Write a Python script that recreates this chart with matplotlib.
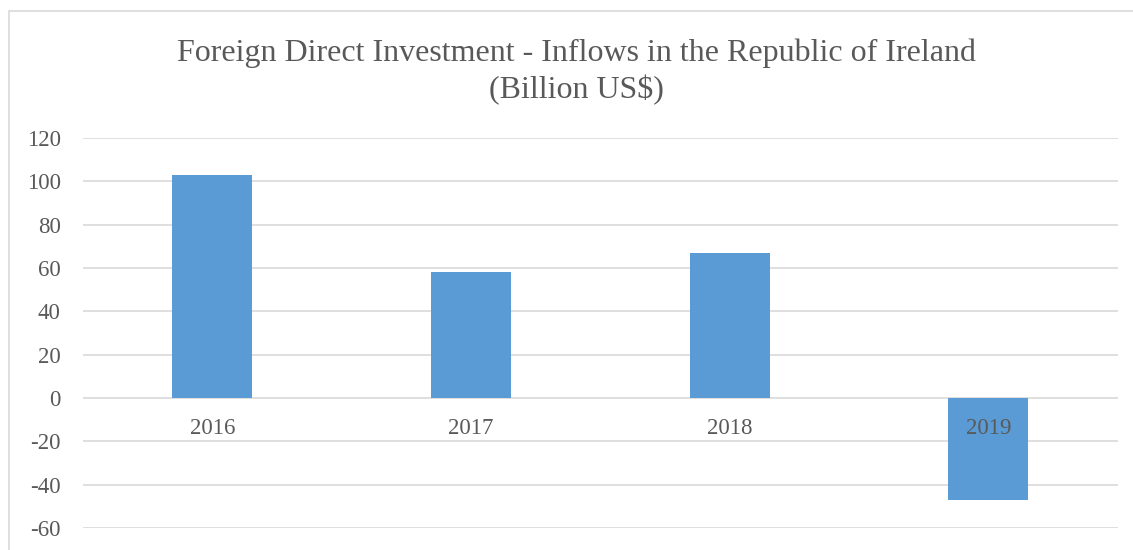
import matplotlib.pyplot as plt
from matplotlib.patches import Rectangle
from matplotlib.transforms import offset_copy

years = ["2016", "2017", "2018", "2019"]
inflows = [102.7, 58.1, 67.0, -46.8]
y_ticks = [-60, -40, -20, 0, 20, 40, 60, 80, 100, 120]

plt.rcParams["font.family"] = ["Liberation Serif", "DejaVu Serif"]
text_color = "#595959"
grid_color = "#d9d9d9"

fig = plt.figure(figsize=(11.33, 5.5), dpi=100)
ax = fig.add_axes([0.0733, 0.0395, 0.9132, 0.7101])

# chart frame
fig.patches.append(Rectangle((9 / 1133, -0.1), 1.2, 1 - 11 / 550 + 0.1,
                             transform=fig.transFigure, fill=False,
                             edgecolor=grid_color, linewidth=1.2))

x = list(range(len(years)))
ax.bar(x, inflows, width=0.31, color="#5B9BD5", zorder=3)

ax.set_xlim(-0.5, len(years) - 0.5)
ax.set_ylim(-60, 120)
ax.set_yticks(y_ticks)
ax.set_yticklabels([str(t) for t in y_ticks])
ax.yaxis.grid(True, color=grid_color, linewidth=1.2, zorder=0)
ax.set_axisbelow(True)
ax.set_xticks([])
for s in ax.spines.values():
    s.set_visible(False)
ax.tick_params(axis="y", length=0, labelsize=16.5, labelcolor=text_color, pad=16)

# category labels sit just under the zero line, on top of the bars
lbl_tr = offset_copy(ax.transData, fig=fig, x=0, y=-14, units="points")
for xi, yr in zip(x, years):
    ax.text(xi, 0, yr, transform=lbl_tr, ha="center", va="top",
            fontsize=16.5, color=text_color, zorder=5)

fig.text(0.509, 0.869, "Foreign Direct Investment - Inflows in the Republic of Ireland\n(Billion US$)",
         ha="center", va="center", fontsize=23, color=text_color, linespacing=1.3)

fig.savefig("out.png", dpi=100)
